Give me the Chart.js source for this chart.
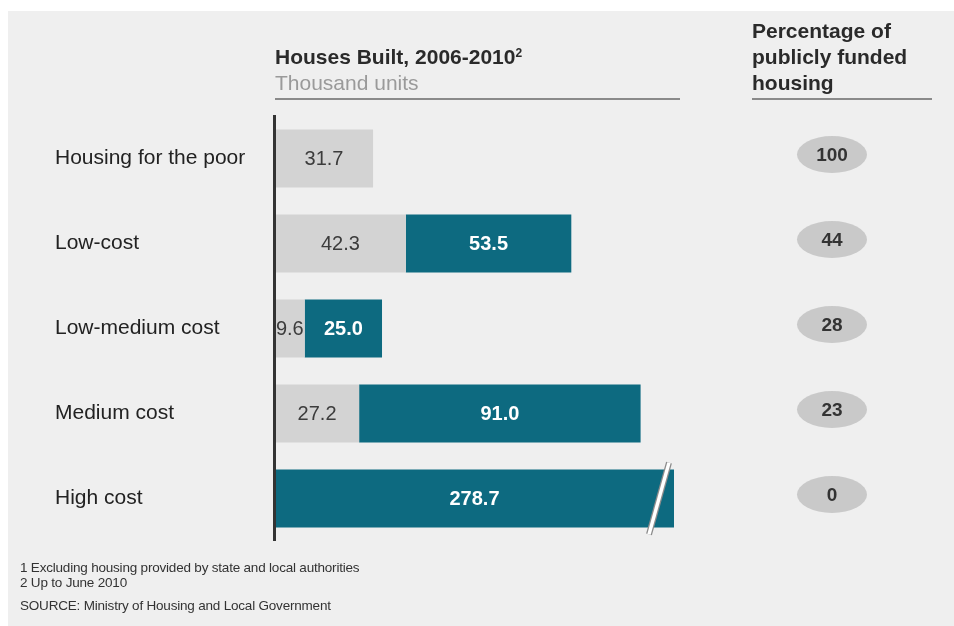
<!DOCTYPE html>
<html>
<head>
<meta charset="utf-8">
<script src="https://cdn.jsdelivr.net/npm/chart.js@4.4.1/dist/chart.umd.min.js"></script>
<style>
  html, body { margin: 0; padding: 0; background: #fff; }
  body { width: 954px; height: 626px; position: relative; overflow: hidden; font-family: "Liberation Sans", Arial, sans-serif; }
  .panel { position: absolute; left: 8px; top: 11px; width: 946px; height: 615px; background: #efefef; }
  #chart { position: absolute; left: 0; top: 0; }
  .txt { position: absolute; white-space: nowrap; color: #2a2a2a; }
  .head { font-weight: bold; font-size: 21px; line-height: 26px; }
  .sub { color: #9a9a9a; font-size: 21px; }
  .rule { position: absolute; height: 2px; background: #8a8a8a; }
  .note { font-size: 13.5px; color: #333; letter-spacing: -0.2px; }
  sup { font-size: 12px; line-height: 0; vertical-align: 7px; }
</style>
</head>
<body>
<div class="panel"></div>
<canvas id="chart" width="954" height="626"></canvas>

<div class="txt head" style="left:275px; top:44px;">Houses Built, 2006-2010<sup>2</sup></div>
<div class="txt sub" style="left:275px; top:71px;">Thousand units</div>
<div class="rule" style="left:275px; top:98px; width:405px;"></div>

<div class="txt head" style="left:752px; top:18px;">Percentage of<br>publicly funded<br>housing</div>
<div class="rule" style="left:752px; top:98px; width:180px;"></div>

<div class="txt note" style="left:20px; top:560px;">1 Excluding housing provided by state and local authorities</div>
<div class="txt note" style="left:20px; top:575px;">2 Up to June 2010</div>
<div class="txt note" style="left:20px; top:598px;">SOURCE: Ministry of Housing and Local Government</div>

<script>
// houses built 2006-2010, thousand units
const categories = ['Housing for the poor', 'Low-cost', 'Low-medium cost', 'Medium cost', 'High cost'];
const publicUnits = [31.7, 42.3, 9.6, 27.2, null];
const privateUnits = [null, 53.5, 25.0, 91.0, 278.7];
const publicShare = [100, 44, 28, 23, 0];  // percent publicly funded

const GREY = '#d3d3d3';
const TEAL = '#0d6a80';

// values inside the bars, break on the long bar, axis line and the ovals on the right
const barLabels = {
    id: 'barLabels',
    afterDatasetsDraw(chart) {
        const ctx = chart.ctx;
        const area = chart.chartArea;
        ctx.save();
        ctx.textAlign = 'center';
        ctx.textBaseline = 'middle';
        chart.data.datasets.forEach((ds, di) => {
            const meta = chart.getDatasetMeta(di);
            meta.data.forEach((bar, i) => {
                const v = ds.data[i];
                if (v == null) return;
                const x0 = Math.max(bar.base, area.left);
                const x1 = Math.min(bar.x, area.right);
                if (di === 0) {
                    ctx.font = '20px "Liberation Sans", Arial, sans-serif';
                    ctx.fillStyle = '#3c3c3c';
                } else {
                    ctx.font = 'bold 20px "Liberation Sans", Arial, sans-serif';
                    ctx.fillStyle = '#ffffff';
                }
                ctx.fillText(v.toFixed(1), (x0 + x1) / 2, bar.y + 1);

                // bar runs off the scale -> draw a break mark
                if (bar.x > area.right) {
                    const h = bar.height / 2 + 7;
                    ctx.lineCap = 'butt';
                    ctx.beginPath();
                    ctx.moveTo(area.right - 25, bar.y + h);
                    ctx.lineTo(area.right - 5, bar.y - h);
                    ctx.strokeStyle = '#8c8c8c';
                    ctx.lineWidth = 6;
                    ctx.stroke();
                    ctx.strokeStyle = '#ffffff';
                    ctx.lineWidth = 3.5;
                    ctx.stroke();
                }
            });
        });

        // vertical axis line on top of the bars
        ctx.beginPath();
        ctx.moveTo(area.left - 0.5, area.top - 1);
        ctx.lineTo(area.left - 0.5, area.bottom);
        ctx.strokeStyle = '#333333';
        ctx.lineWidth = 3;
        ctx.stroke();

        // percentage ovals
        const yScale = chart.scales.y;
        publicShare.forEach((p, i) => {
            const y = yScale.getPixelForValue(i) - 4;
            ctx.beginPath();
            ctx.ellipse(832, y, 35, 18.5, 0, 0, Math.PI * 2);
            ctx.fillStyle = '#c9c9c9';
            ctx.fill();
            ctx.font = 'bold 19px "Liberation Sans", Arial, sans-serif';
            ctx.fillStyle = '#333333';
            ctx.fillText(String(p), 832, y + 1);
        });
        ctx.restore();
    }
};

const chart = new Chart(document.getElementById('chart'), {
    type: 'bar',
    data: {
        labels: categories,
        datasets: [
            { label: 'Public', data: publicUnits, backgroundColor: GREY },
            { label: 'Private', data: privateUnits, backgroundColor: TEAL }
        ]
    },
    options: {
        indexAxis: 'y',
        responsive: false,
        animation: false,
        categoryPercentage: 0.68,
        barPercentage: 1,
        layout: { padding: { left: 55, right: 280, top: 116, bottom: 85 } },
        plugins: {
            legend: { display: false },
            tooltip: { enabled: false }
        },
        scales: {
            x: {
                display: false,
                stacked: true,
                min: 0,
                max: 129
            },
            y: {
                stacked: true,
                grid: { display: false },
                border: { display: false },
                ticks: {
                    crossAlign: 'far',
                    color: '#222222',
                    font: { family: '"Liberation Sans", Arial, sans-serif', size: 21 }
                },
                afterFit(scale) { scale.width = 220; }
            }
        }
    },
    plugins: [barLabels]
});
</script>
</body>
</html>
